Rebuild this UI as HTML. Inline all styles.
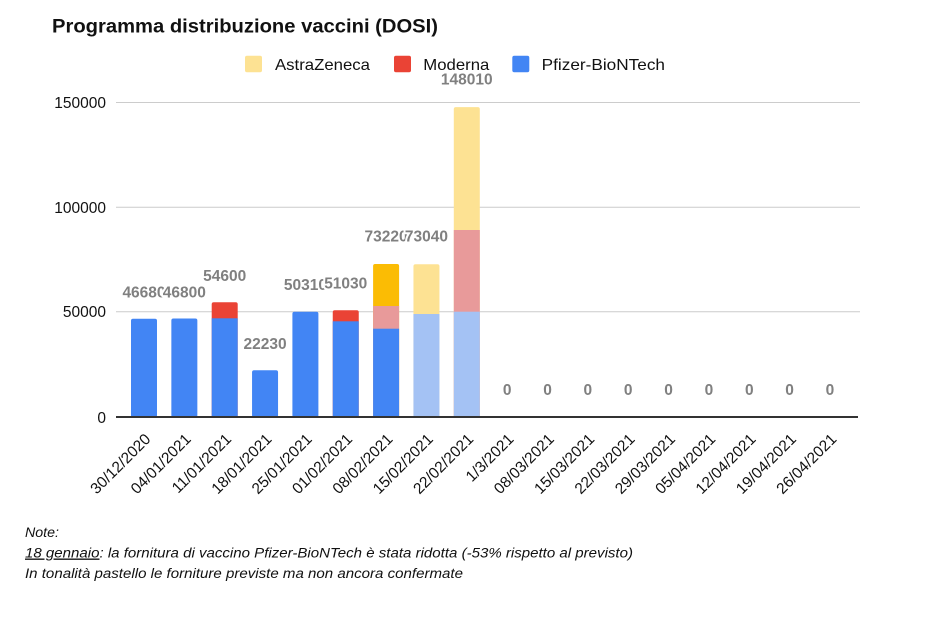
<!DOCTYPE html>
<html><head><meta charset="utf-8"><style>
html,body{margin:0;padding:0;background:#fff;}
svg{display:block;}
text{font-family:"Liberation Sans",Arial,sans-serif;}
.v{font-size:15.5px;font-weight:bold;fill:#808080;text-anchor:middle;stroke:#fff;stroke-width:4px;paint-order:stroke;stroke-linejoin:round;}
.y{font-size:15.5px;fill:#111;text-anchor:end;}
.x{font-size:15.5px;fill:#111;text-anchor:end;}
.lg{font-size:16px;fill:#111;}
.n{font-size:13.5px;font-style:italic;fill:#111;}
</style></head><body>
<svg width="946" height="640" viewBox="0 0 946 640" xmlns="http://www.w3.org/2000/svg">
<rect width="946" height="640" fill="#fff"/>
<text x="52" y="32.7" font-size="19px" font-weight="bold" fill="#111" textLength="386" lengthAdjust="spacingAndGlyphs">Programma distribuzione vaccini (DOSI)</text>

<!-- legend -->
<rect x="245" y="55.7" width="17" height="16.6" rx="2" fill="#FDE293"/>
<text class="lg" x="275" y="70" textLength="95" lengthAdjust="spacingAndGlyphs">AstraZeneca</text>
<rect x="394" y="55.7" width="17" height="16.6" rx="2" fill="#EA4335"/>
<text class="lg" x="423.3" y="70" textLength="66" lengthAdjust="spacingAndGlyphs">Moderna</text>
<rect x="512.3" y="55.7" width="17" height="16.6" rx="2" fill="#4285F4"/>
<text class="lg" x="541.7" y="70" textLength="123.3" lengthAdjust="spacingAndGlyphs">Pfizer-BioNTech</text>

<!-- gridlines -->
<line x1="116" y1="102.5" x2="860" y2="102.5" stroke="#cccccc" stroke-width="1"/>
<line x1="116" y1="207.3" x2="860" y2="207.3" stroke="#cccccc" stroke-width="1"/>
<line x1="116" y1="311.7" x2="860" y2="311.7" stroke="#cccccc" stroke-width="1"/>

<text class="y" x="106" y="108">150000</text>
<text class="y" x="106" y="212.8">100000</text>
<text class="y" x="106" y="317.2">50000</text>
<text class="y" x="106" y="422.8">0</text>

<!-- bars -->
<rect x="131" y="318.8" width="26" height="98.5" rx="2" fill="#4285F4"/>
<rect x="171.35" y="318.5" width="26" height="98.8" rx="2" fill="#4285F4"/>
<rect x="211.7" y="302.3" width="26" height="115" rx="2" fill="#EA4335"/>
<rect x="211.7" y="318.3" width="26" height="99" fill="#4285F4"/>
<rect x="252.05" y="370.3" width="26" height="47" rx="2" fill="#4285F4"/>
<rect x="292.4" y="311.8" width="26" height="105.5" rx="2" fill="#4285F4"/>
<rect x="332.75" y="310.3" width="26" height="107" rx="2" fill="#EA4335"/>
<rect x="332.75" y="321.3" width="26" height="96" fill="#4285F4"/>
<rect x="373.1" y="264" width="26" height="153.3" rx="2" fill="#FBBC04"/>
<rect x="373.1" y="306" width="26" height="111.3" fill="#E89A9A"/>
<rect x="373.1" y="328.7" width="26" height="88.6" fill="#4285F4"/>
<rect x="413.45" y="264.2" width="26" height="153.1" rx="2" fill="#FDE293"/>
<rect x="413.45" y="314" width="26" height="103.3" fill="#A4C2F4"/>
<rect x="453.8" y="107.1" width="26" height="310.2" rx="2" fill="#FDE293"/>
<rect x="453.8" y="230" width="26" height="187.3" fill="#E89A9A"/>
<rect x="453.8" y="311.7" width="26" height="105.6" fill="#A4C2F4"/>

<!-- axis -->
<line x1="116" y1="417" x2="858" y2="417" stroke="#333" stroke-width="2"/>

<!-- value labels -->
<text class="v" x="144" y="297.3">46680</text>
<text class="v" x="184.35" y="297.3">46800</text>
<text class="v" x="224.7" y="281">54600</text>
<text class="v" x="265.05" y="349">22230</text>
<text class="v" x="305.4" y="290.2">50310</text>
<text class="v" x="345.75" y="288.6">51030</text>
<text class="v" x="386.1" y="241.7">73220</text>
<text class="v" x="426.45" y="241.7">73040</text>
<text class="v" x="466.8" y="84.5">148010</text>
<text class="v" x="507.15" y="395">0</text>
<text class="v" x="547.5" y="395">0</text>
<text class="v" x="587.85" y="395">0</text>
<text class="v" x="628.2" y="395">0</text>
<text class="v" x="668.55" y="395">0</text>
<text class="v" x="708.9" y="395">0</text>
<text class="v" x="749.25" y="395">0</text>
<text class="v" x="789.6" y="395">0</text>
<text class="v" x="829.95" y="395">0</text>

<!-- x labels -->
<text class="x" transform="translate(151.5,440) rotate(-45)">30/12/2020</text>
<text class="x" transform="translate(191.85,440) rotate(-45)">04/01/2021</text>
<text class="x" transform="translate(232.2,440) rotate(-45)">11/01/2021</text>
<text class="x" transform="translate(272.55,440) rotate(-45)">18/01/2021</text>
<text class="x" transform="translate(312.9,440) rotate(-45)">25/01/2021</text>
<text class="x" transform="translate(353.25,440) rotate(-45)">01/02/2021</text>
<text class="x" transform="translate(393.6,440) rotate(-45)">08/02/2021</text>
<text class="x" transform="translate(433.95,440) rotate(-45)">15/02/2021</text>
<text class="x" transform="translate(474.3,440) rotate(-45)">22/02/2021</text>
<text class="x" transform="translate(514.65,440) rotate(-45)">1/3/2021</text>
<text class="x" transform="translate(555,440) rotate(-45)">08/03/2021</text>
<text class="x" transform="translate(595.35,440) rotate(-45)">15/03/2021</text>
<text class="x" transform="translate(635.7,440) rotate(-45)">22/03/2021</text>
<text class="x" transform="translate(676.05,440) rotate(-45)">29/03/2021</text>
<text class="x" transform="translate(716.4,440) rotate(-45)">05/04/2021</text>
<text class="x" transform="translate(756.75,440) rotate(-45)">12/04/2021</text>
<text class="x" transform="translate(797.1,440) rotate(-45)">19/04/2021</text>
<text class="x" transform="translate(837.45,440) rotate(-45)">26/04/2021</text>

<!-- notes -->
<text class="n" x="25" y="537" textLength="34" lengthAdjust="spacingAndGlyphs">Note:</text>
<text class="n" x="25" y="557.5" textLength="608" lengthAdjust="spacingAndGlyphs"><tspan text-decoration="underline">18 gennaio</tspan>: la fornitura di vaccino Pfizer-BioNTech è stata ridotta (-53% rispetto al previsto)</text>
<text class="n" x="25" y="578" textLength="438" lengthAdjust="spacingAndGlyphs">In tonalità pastello le forniture previste ma non ancora confermate</text>
</svg>
</body></html>
